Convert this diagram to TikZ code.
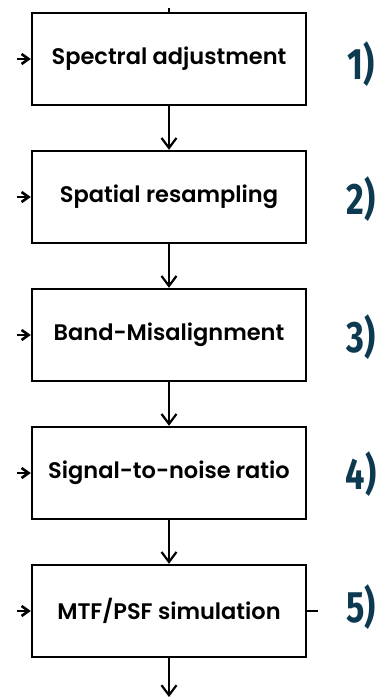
\documentclass[tikz,border=0pt]{standalone}
\usepackage{fontspec}
\setmainfont{Poppins}
\newfontfamily\numfont{Fira Sans}[UprightFont={* Bold}]
\usetikzlibrary{arrows.meta}
\definecolor{stepnum}{HTML}{0D3A50}
\tikzset{
  stage/.style={draw=black, line width=2.4pt, minimum width=274pt, minimum height=92pt,
    inner sep=0pt, font=\fontsize{22.5}{26}\selectfont\fontspec{Poppins SemiBold}},
  flow/.style={line width=2.2pt, -{Straight Barb[length=10pt,width=15pt,line width=2.2pt]}},
  feed/.style={line width=2.4pt, -{Straight Barb[length=7pt,width=10pt,line width=2.6pt]}},
  stepno/.style={text=stepnum, font=\numfont\fontsize{44}{46}\selectfont, inner sep=0pt}
}
\begin{document}
\begin{tikzpicture}[x=1pt,y=-1pt]
  \useasboundingbox (0,0) rectangle (384,697);
  \node[stage] (s1) at (169,59)  {Spectral adjustment};
  \node[stage] (s2) at (169,197) {Spatial resampling};
  \node[stage] (s3) at (169,335) {Band-Misalignment};
  \node[stage] (s4) at (169,473) {Signal-to-noise ratio};
  \node[stage] (s5) at (169,611) {MTF/PSF simulation};

  % numbering on the right
  \node[stepno] (n1) at (361,64)  {\scalebox{0.78}[1]{1)}};
  \node[stepno] (n2) at (361,199) {\scalebox{0.78}[1]{2)}};
  \node[stepno] (n3) at (361,337) {\scalebox{0.78}[1]{3)}};
  \node[stepno] (n4) at (361,474) {\scalebox{0.78}[1]{4)}};
  \node[stepno] (n5) at (361,607) {\scalebox{0.78}[1]{5)}};

  % incoming stub above the first stage
  \coordinate (top) at (169,8);
  \draw[line width=2.2pt] (top) -- (s1.north);

  % vertical flow between stages
  \draw[flow] (s1.south) -- (s2.north);
  \draw[flow] (s2.south) -- (s3.north);
  \draw[flow] (s3.south) -- (s4.north);
  \draw[flow] (s4.south) -- (s5.north);
  \coordinate (out) at (169,697);
  \draw[flow] (s5.south) -- (out);

  % side inputs on the left
  \foreach \s in {s1,s2,s3,s4,s5} {
    \coordinate (in-\s) at ([xshift=-14pt]\s.west);
    \draw[feed] (in-\s) -- (\s.west);
  }

  % side output of the last stage
  \coordinate (side5) at ([xshift=11pt]s5.east);
  \draw[line width=2.2pt] (s5.east) -- (side5);
\end{tikzpicture}
\end{document}
